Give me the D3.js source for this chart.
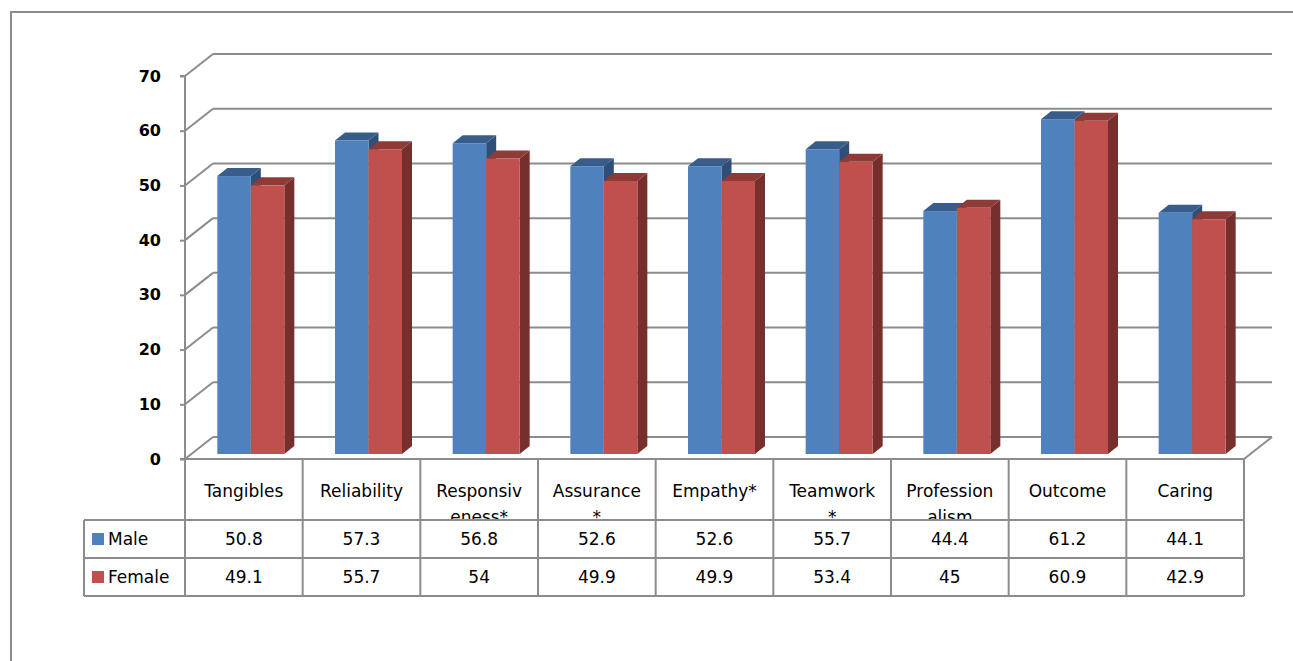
<!DOCTYPE html>
<html>
<head>
<meta charset="utf-8">
<script src="https://cdn.jsdelivr.net/npm/d3@7"></script>
<style>
  body { margin: 0; background: #fff; }
  svg { display: block; }
  text { font-family: "DejaVu Sans", sans-serif; fill: #000; }
</style>
</head>
<body>
<div id="chart"></div>
<script>
// data
var categories = [["Tangibles"], ["Reliability"], ["Responsiv", "eness*"], ["Assurance", "*"],
  ["Empathy*"], ["Teamwork", "*"], ["Profession", "alism"], ["Outcome"], ["Caring"]];
var male = [50.8, 57.3, 56.8, 52.6, 52.6, 55.7, 44.4, 61.2, 44.1];
var female = [49.1, 55.7, 54, 49.9, 49.9, 53.4, 45, 60.9, 42.9];
var maleLabels = ["50.8", "57.3", "56.8", "52.6", "52.6", "55.7", "44.4", "61.2", "44.1"];
var femaleLabels = ["49.1", "55.7", "54", "49.9", "49.9", "53.4", "45", "60.9", "42.9"];
var yTicks = [0, 10, 20, 30, 40, 50, 60, 70];

var W = 1293, H = 661;
var grid = "#8c8c8c";
var DX = 28, DY = -22;   // depth of the floor / back wall
var OX = 7, OY = -5;     // where bars sit in depth
var BX = 10, BY = -8;    // bar depth
var bw = 33.5;
var fs = "17px";

var svg = d3.select("#chart").append("svg").attr("width", W).attr("height", H);

// outer frame
svg.append("rect").attr("x", 11).attr("y", 12).attr("width", 1300).attr("height", 700)
  .attr("fill", "none").attr("stroke", grid).attr("stroke-width", 2);

var x = d3.scaleBand().domain(d3.range(categories.length)).range([185, 1244]).padding(0);
var y = d3.scaleLinear().domain([0, 70]).range([459, 76]);

// walls: back gridlines + left diagonals
var g = svg.append("g");
yTicks.forEach(function (t) {
  g.append("line").attr("x1", 185 + DX).attr("x2", 1244 + DX)
    .attr("y1", y(t) + DY).attr("y2", y(t) + DY)
    .attr("stroke", grid).attr("stroke-width", 2);
  g.append("line").attr("x1", 185).attr("y1", y(t)).attr("x2", 185 + DX).attr("y2", y(t) + DY)
    .attr("stroke", grid).attr("stroke-width", 2);
});
// floor right edge
g.append("line").attr("x1", 1244).attr("y1", y(0)).attr("x2", 1244 + DX).attr("y2", y(0) + DY)
  .attr("stroke", grid).attr("stroke-width", 2);

// y axis
var yAxis = d3.axisLeft(y).tickValues(yTicks).tickSize(5).tickPadding(19);
var ya = svg.append("g").attr("transform", "translate(185,0)").call(yAxis);
ya.select(".domain").attr("stroke", grid).attr("stroke-width", 2).attr("d", "M-5," + y(70) + "H0V" + y(0) + "H-5");
ya.selectAll(".tick line").attr("stroke", grid).attr("stroke-width", 2);
ya.selectAll(".tick text").style("font-family", "DejaVu Sans, sans-serif")
  .style("font-size", "16px").style("font-weight", "bold").attr("fill", "#111");

// 3D bars
function bar(x0, v, cFront, cTop, cSide) {
  var x1 = x0 + bw, yb = y(0) + OY, yt = y(v) + OY;
  var b = svg.append("g");
  b.append("path").attr("fill", cSide)
    .attr("d", "M" + x1 + "," + yt + "L" + (x1 + BX) + "," + (yt + BY) + "L" + (x1 + BX) + "," + (yb + BY) + "L" + x1 + "," + yb + "Z");
  b.append("path").attr("fill", cTop)
    .attr("d", "M" + x0 + "," + yt + "L" + (x0 + BX) + "," + (yt + BY) + "L" + (x1 + BX) + "," + (yt + BY) + "L" + x1 + "," + yt + "Z");
  b.append("rect").attr("x", x0).attr("y", yt).attr("width", bw).attr("height", yb - yt).attr("fill", cFront);
}
categories.forEach(function (c, i) {
  var cx = x(i) + x.bandwidth() / 2 + OX;
  bar(cx - bw, male[i], "#4f81bd", "#385d8a", "#2f4f78");
  bar(cx, female[i], "#c0504d", "#8e3a37", "#772f2d");
});

// data table
var t = svg.append("g");
var rowTop = 459, hdrBot = 520, maleBot = 558, femBot = 596, legL = 84;
categories.forEach(function (c, i) {
  var cx = x(i) + x.bandwidth() / 2;
  c.forEach(function (line, k) {
    t.append("text").attr("x", cx).attr("y", 497 + k * 26).attr("text-anchor", "middle")
      .style("font-size", fs).text(line);
  });
});
// white cover so wrapped header text is cut at the row line
t.append("rect").attr("x", 186).attr("y", 521).attr("width", 1056).attr("height", 8).attr("fill", "#fff");
categories.forEach(function (c, i) {
  var cx = x(i) + x.bandwidth() / 2;
  t.append("text").attr("x", cx).attr("y", 545).attr("text-anchor", "middle")
    .style("font-size", fs).text(maleLabels[i]);
  t.append("text").attr("x", cx).attr("y", 583).attr("text-anchor", "middle")
    .style("font-size", fs).text(femaleLabels[i]);
});

var lines = [];
lines.push([185, rowTop, 1244, rowTop]);
lines.push([legL, hdrBot, 1244, hdrBot]);
lines.push([legL, maleBot, 1244, maleBot]);
lines.push([legL, femBot, 1244, femBot]);
lines.push([legL, hdrBot, legL, femBot]);
d3.range(categories.length + 1).forEach(function (i) {
  var xx = i < categories.length ? x(i) : 1244;
  lines.push([xx, rowTop, xx, femBot]);
});
t.selectAll("line.tb").data(lines).enter().append("line").attr("class", "tb")
  .attr("x1", function (d) { return d[0]; }).attr("y1", function (d) { return d[1]; })
  .attr("x2", function (d) { return d[2]; }).attr("y2", function (d) { return d[3]; })
  .attr("stroke", grid).attr("stroke-width", 2);

// legend keys
var legend = [{ name: "Male", color: "#4f81bd", y: 539 }, { name: "Female", color: "#c0504d", y: 577 }];
legend.forEach(function (d) {
  t.append("rect").attr("x", 92).attr("y", d.y - 6).attr("width", 12).attr("height", 12).attr("fill", d.color);
  t.append("text").attr("x", 108).attr("y", d.y + 6).style("font-size", fs).text(d.name);
});
</script>
</body>
</html>
